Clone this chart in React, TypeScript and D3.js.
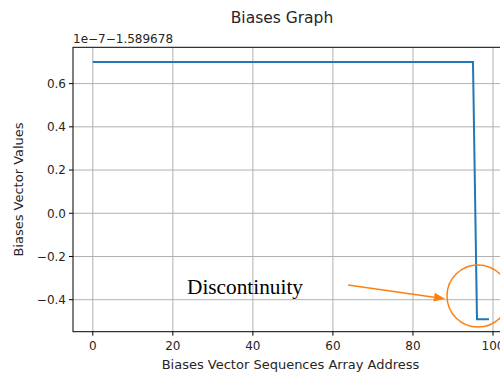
import React from 'react';
import * as d3 from 'd3';

// vertices of the biases line (values shown relative to the axis offset, in 1e-7 units)
const address = [0, 95, 96, 99];
const biasValues = [0.7, 0.7, -0.49, -0.49];

const xTicks = [0, 20, 40, 60, 80, 100];
const yTicks = [-0.4, -0.2, 0.0, 0.2, 0.4, 0.6];
const offsetLabel = '1e\u22127\u22121.589678';

const App = () => {
  const left = 73;
  const top = 47.3;
  const bottom = 331.7;
  const right = 508.8;

  const x = d3.scaleLinear().domain([-4.95, 103.95]).range([left, right]);
  const y = d3.scaleLinear().domain([-0.548, 0.768]).range([bottom, top]);

  const pts = address.map((a, i) => [a, biasValues[i]]);
  const line = d3.line().x((d) => x(d[0])).y((d) => y(d[1]));

  const fmt = (v) => (v < 0 ? '\u2212' : '') + Math.abs(v).toFixed(1);
  const font = 'DejaVu Sans, sans-serif';

  // annotation
  const arrowStart = [348, 285];
  const arrowTip = [445, 298.7];
  const ang = Math.atan2(arrowTip[1] - arrowStart[1], arrowTip[0] - arrowStart[0]);
  const hl = 11;
  const hw = 4.5;
  const base = [arrowTip[0] - hl * Math.cos(ang), arrowTip[1] - hl * Math.sin(ang)];
  const head = [
    arrowTip,
    [base[0] + hw * Math.sin(ang), base[1] - hw * Math.cos(ang)],
    [base[0] - hw * Math.sin(ang), base[1] + hw * Math.cos(ang)],
  ];

  return (
    <svg width={500} height={374} style={{ position: 'absolute', left: 0, top: 0, background: '#fff' }}>
      <rect width={500} height={374} fill="#fff" />
      {/* grid */}
      {xTicks.map((t) => (
        <line key={'gx' + t} x1={x(t)} x2={x(t)} y1={top} y2={bottom} stroke="#b0b0b0" strokeWidth={1} />
      ))}
      {yTicks.map((t) => (
        <line key={'gy' + t} x1={left} x2={right} y1={y(t)} y2={y(t)} stroke="#b0b0b0" strokeWidth={1} />
      ))}
      {/* data line */}
      <path d={line(pts)} fill="none" stroke="#1f77b4" strokeWidth={2} />
      {/* spines */}
      <rect x={left} y={top} width={right - left} height={bottom - top} fill="none" stroke="#000" strokeWidth={1} />
      {/* x ticks */}
      {xTicks.map((t) => (
        <g key={'xt' + t}>
          <line x1={x(t)} x2={x(t)} y1={bottom} y2={bottom + 4} stroke="#000" />
          <text x={x(t)} y={bottom + 18} textAnchor="middle" fontFamily={font} fontSize={12} fill="#262626">
            {t}
          </text>
        </g>
      ))}
      {/* y ticks */}
      {yTicks.map((t) => (
        <g key={'yt' + t}>
          <line x1={left - 4} x2={left} y1={y(t)} y2={y(t)} stroke="#000" />
          <text x={left - 7} y={y(t) + 4.3} textAnchor="end" fontFamily={font} fontSize={12} fill="#262626">
            {fmt(t)}
          </text>
        </g>
      ))}
      <text x={left} y={top - 4} fontFamily={font} fontSize={12} fill="#262626">
        {offsetLabel}
      </text>
      <text x={282} y={23} textAnchor="middle" fontFamily={font} fontSize={15.5} fill="#262626">
        Biases Graph
      </text>
      <text x={290.5} y={369} textAnchor="middle" fontFamily={font} fontSize={13} fill="#262626">
        Biases Vector Sequences Array Address
      </text>
      <text
        transform={`translate(23,${(top + bottom) / 2}) rotate(-90)`}
        textAnchor="middle"
        fontFamily={font}
        fontSize={13}
        fill="#262626"
      >
        Biases Vector Values
      </text>
      {/* annotation */}
      <text x={187} y={293.5} fontFamily="Liberation Serif, Times New Roman, serif" fontSize={21.3} fill="#000">
        Discontinuity
      </text>
      <line x1={arrowStart[0]} y1={arrowStart[1]} x2={base[0]} y2={base[1]} stroke="#ff7f0e" strokeWidth={1.5} />
      <polygon points={head.map((p) => p.join(',')).join(' ')} fill="#ff7f0e" />
      <circle cx={478} cy={296} r={31} fill="none" stroke="#ff7f0e" strokeWidth={1.5} />
    </svg>
  );
};

export default App;
